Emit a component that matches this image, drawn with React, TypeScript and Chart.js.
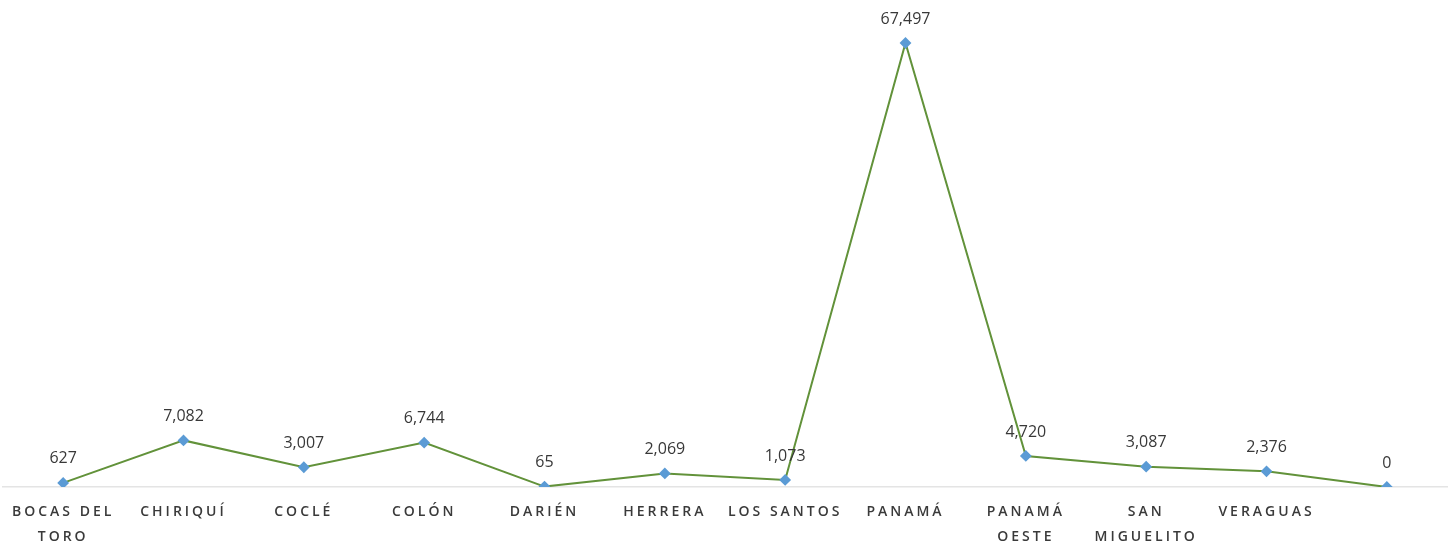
import React, { useEffect, useRef } from "react";
import { Chart, registerables } from "chart.js";

Chart.register(...registerables);

const categories: (string | string[])[] = [
  ["BOCAS DEL", "TORO"],
  "CHIRIQUÍ",
  "COCLÉ",
  "COLÓN",
  "DARIÉN",
  "HERRERA",
  "LOS SANTOS",
  "PANAMÁ",
  ["PANAMÁ", "OESTE"],
  ["SAN", "MIGUELITO"],
  "VERAGUAS",
  "",
];

const values: number[] = [627, 7082, 3007, 6744, 65, 2069, 1073, 67497, 4720, 3087, 2376, 0];

const labelPlugin = {
  id: "valueLabels",
  beforeDraw(chart: any) {
    (chart.ctx as any).letterSpacing = "3px";
  },
  afterDatasetsDraw(chart: any) {
    const ctx = chart.ctx as any;
    ctx.save();
    ctx.letterSpacing = "0px";
    ctx.font = "16px 'Open Sans', sans-serif";
    ctx.fillStyle = "#383838";
    ctx.textAlign = "center";
    ctx.textBaseline = "middle";
    const meta = chart.getDatasetMeta(0);
    meta.data.forEach((pt: any, i: number) => {
      const v = values[i];
      ctx.fillText(v.toLocaleString("en-US"), pt.x, pt.y - 24);
    });
    ctx.restore();
  },
};

export default function App() {
  const ref = useRef<HTMLCanvasElement | null>(null);
  useEffect(() => {
    if (!ref.current) return;
    const chart = new Chart(ref.current, {
      type: "line",
      data: {
        labels: categories,
        datasets: [
          {
            data: values,
            borderColor: "#62923a",
            borderWidth: 2,
            pointStyle: "rectRot",
            pointRadius: 4.5,
            pointBackgroundColor: "#5b9bd5",
            pointBorderColor: "#5b9bd5",
            tension: 0,
          },
        ],
      },
      options: {
        animation: false,
        responsive: false,
        devicePixelRatio: 1,
        layout: { autoPadding: false, padding: { top: 26.5, left: 3, right: 5, bottom: 0 } },
        plugins: { legend: { display: false }, tooltip: { enabled: false } },
        scales: {
          x: {
            offset: true,
            grid: { display: false, drawTicks: false },
            border: { display: true, color: "#e4e4e4", width: 1.5 },
            ticks: {
              color: "#3a3a3a",
              font: { family: "'Open Sans', sans-serif", size: 14, weight: "600", lineHeight: "25px" } as any,
              padding: 13,
              maxRotation: 0,
              autoSkip: false,
            },
            afterFit(scale: any) {
              scale.height = 61;
              scale.paddingLeft = 0;
              scale.paddingRight = 0;
            },
          },
          y: {
            display: false,
            min: 0,
            max: 70000,
          },
        },
      },
      plugins: [labelPlugin],
    });
    return () => chart.destroy();
  }, []);
  return (
    <div style={{ position: "absolute", left: 0, top: 0, width: 1452, height: 548, background: "#fff" }}>
      <canvas ref={ref} width={1452} height={548} style={{ width: 1452, height: 548 }} />
    </div>
  );
}
